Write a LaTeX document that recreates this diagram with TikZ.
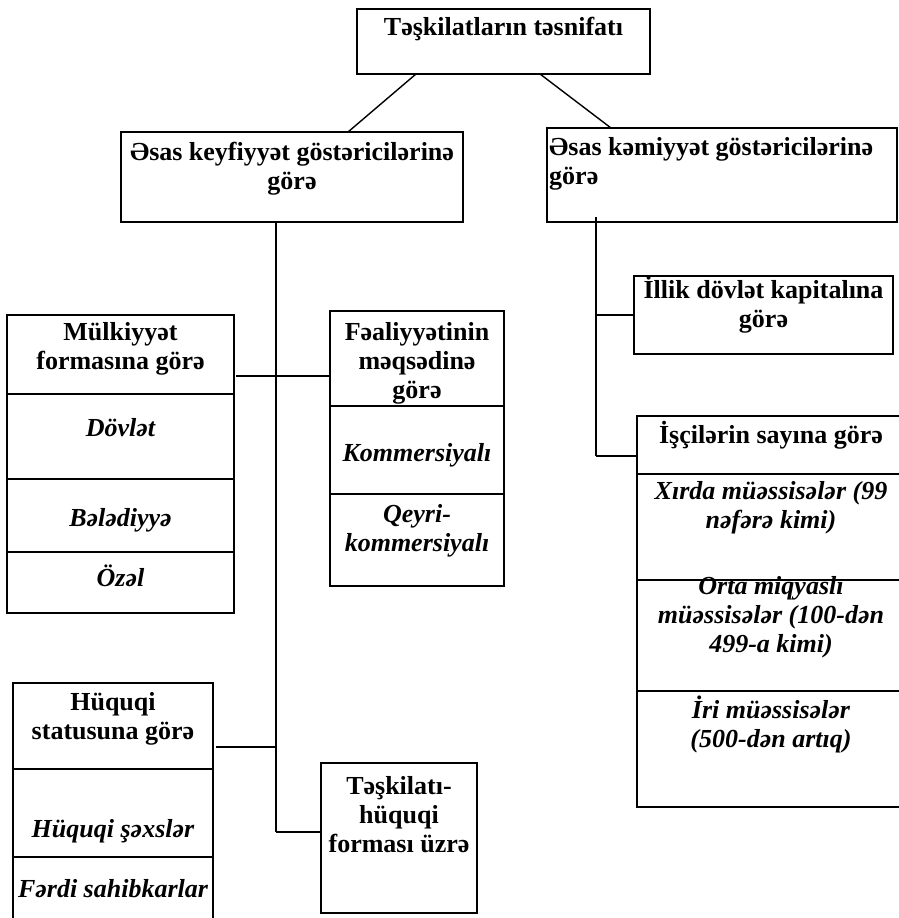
\documentclass[tikz,border=0pt]{standalone}
\usepackage{fontspec}
\setmainfont{Liberation Serif}
\usetikzlibrary{positioning}
\begin{document}
\begin{tikzpicture}[x=1pt,y=-1pt,
  box/.style={draw,line width=1.6pt,inner sep=0pt,outer sep=0pt},
  head/.style={font=\fontsize{26}{29}\selectfont\bfseries,align=center,inner sep=0pt,execute at begin node=\strut},
  item/.style={head,font=\fontsize{26}{29}\selectfont\bfseries\itshape},
  link/.style={line width=1.4pt}]
\useasboundingbox (0,0) rectangle (898,918);
%\draw[step=50,gray,very thin] (0,0) grid (898,918);

\node[box,minimum width=293,minimum height=65] (top) at (503.5,41.5) {};
\node[head,below=6pt of top.north] (topT) {Təşkilatların təsnifatı};

\node[box,minimum width=342,minimum height=90] (keyf) at (292,177) {};
\node[head,below=10pt of keyf.north] (keyfT) {Əsas keyfiyyət göstəricilərinə\\görə};
\node[box,minimum width=350,minimum height=94] (kem) at (722,175) {};
\node[head,align=left,below right=9pt and 2pt of kem.north west] (kemT) {Əsas kəmiyyət göstəricilərinə\\görə};

\draw[link] (top.south -| 416,0) -- (keyf.north -| 348,0);
\draw[link] (top.south -| 540,0) -- (kem.north -| 611,0);

%------------------------------------------------

\node[box,minimum width=227,minimum height=79] (mulkA) at (120.5,354.5) {};
\node[box,minimum width=227,minimum height=85,below=0pt of mulkA] (mulkB) {};
\node[box,minimum width=227,minimum height=73,below=0pt of mulkB] (mulkC) {};
\node[box,minimum width=227,minimum height=61,below=0pt of mulkC] (mulkD) {};
\node[head,below=7.5pt of mulkA.north] (mulkAT) {Mülkiyyət\\formasına görə};
\node[item,below=22pt of mulkB.north] (mulkBT) {Dövlət};
\node[item,below=27pt of mulkC.north] (mulkCT) {Bələdiyyə};
\node[item,below=13pt of mulkD.north] (mulkDT) {Özəl};

\node[box,minimum width=174,minimum height=95] (faalA) at (417,358.5) {};
\node[box,minimum width=174,minimum height=88,below=0pt of faalA] (faalB) {};
\node[box,minimum width=174,minimum height=92,below=0pt of faalB] (faalC) {};
\node[head,below=11.5pt of faalA.north] (faalAT) {Fəaliyyətinin\\məqsədinə\\görə};
\node[item,below=35pt of faalB.north] (faalBT) {Kommersiyalı};
\node[item,below=10.5pt of faalC.north] (faalCT) {Qeyri-\\kommersiyalı};

\node[box,minimum width=200,minimum height=86] (huqA) at (113,726) {};
\node[box,minimum width=200,minimum height=88,below=0pt of huqA] (huqB) {};
\node[box,minimum width=200,minimum height=78,below=0pt of huqB] (huqC) {};
\node[head,below=9pt of huqA.north] (huqAT) {Hüquqi\\statusuna görə};
\node[item,below=48pt of huqB.north] (huqBT) {Hüquqi şəxslər};
\node[item,below=20pt of huqC.north] (huqCT) {Fərdi sahibkarlar};

\node[box,minimum width=156,minimum height=150] (teshk) at (399,838) {};
\node[head,below=13.5pt of teshk.north] (teshkT) {Təşkilatı-\\hüquqi\\forması üzrə};

\coordinate (lfoot) at (276,832);
\coordinate (jmulk) at (276,376);
\coordinate (jhuq) at (276,747);
\draw[link] (keyf.south -| lfoot) -- (lfoot);
\draw[link] ([xshift=2pt]mulkA.east |- jmulk) -- (faalA.west |- jmulk);
\draw[link] ([xshift=3pt]huqA.east |- jhuq) -- (jhuq);
\draw[link] (teshk.west |- lfoot) -- (lfoot);

%------------------------------------------------

\node[box,minimum width=259,minimum height=78] (illik) at (763.5,315) {};
\node[head,below=0pt of illik.north] (illikT) {İllik dövlət kapitalına\\görə};

\node[box,minimum width=268,minimum height=58] (isciA) at (771,445) {};
\node[box,minimum width=268,minimum height=106,below=0pt of isciA] (isciB) {};
\node[box,minimum width=268,minimum height=111,below=0pt of isciB] (isciC) {};
\node[box,minimum width=268,minimum height=116,below=0pt of isciC] (isciD) {};
\node[head,below=5pt of isciA.north] (isciAT) {İşçilərin sayına görə};
\node[item,below=7pt of isciB.north] (isciBT) {Xırda müəssisələr (99\\nəfərə kimi)};
\node[item,below=-4pt of isciC.north] (isciCT) {Orta miqyaslı\\müəssisələr (100-dən\\499-a kimi)};
\node[item,below=5pt of isciD.north] (isciDT) {İri müəssisələr\\(500-dən artıq)};

\coordinate (rfoot) at (596,456);
\draw[link] ([yshift=5pt]kem.south -| rfoot) -- (rfoot);
\draw[link] (illik.west) -- (illik.west -| rfoot);
\draw[link] (isciA.west |- rfoot) -- (rfoot);
\end{tikzpicture}
\end{document}
